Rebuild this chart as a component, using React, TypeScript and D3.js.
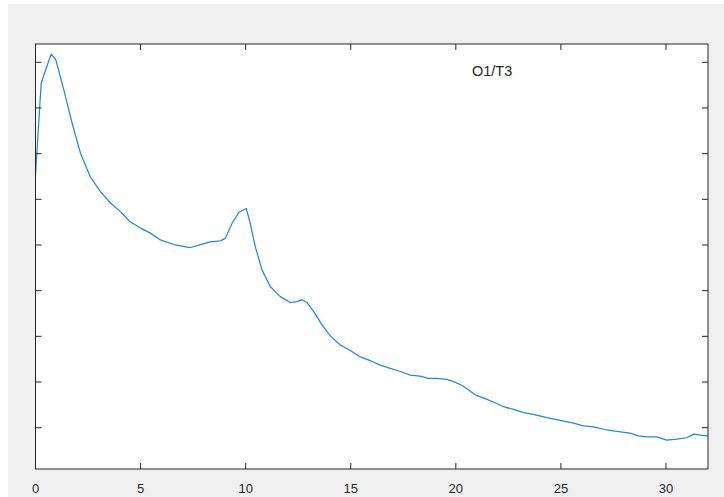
import React from "react";
import * as d3 from "d3";

// Spectrum trace for channel pair O1/T3 (frequency vs. amplitude)
const freq: number[] = [
  0, 0.27, 0.48, 0.75, 0.97, 1.35, 1.74, 2.14, 2.61, 3.09, 3.57, 4.04, 4.5, 5.0, 5.47,
  5.94, 6.58, 7.34, 7.85, 8.32, 8.8, 9.03, 9.35, 9.67, 10.03, 10.22, 10.46, 10.78, 11.17,
  11.65, 12.12, 12.44, 12.68, 12.92, 13.24, 13.63, 14.03, 14.5, 14.98, 15.45, 15.93, 16.4,
  16.88, 17.36, 17.83, 18.3, 18.7, 19.1, 19.57, 19.89, 20.28, 20.6, 20.92, 21.48, 21.95,
  22.26, 22.74, 23.22, 23.69, 24.33, 24.96, 25.6, 26.07, 26.55, 27.18, 27.82, 28.29,
  28.69, 29.09, 29.57, 30.04, 30.51, 30.99, 31.33, 31.62, 32,
];
const amplitude: number[] = [
  6.53, 8.54, 8.83, 9.18, 9.05, 8.39, 7.67, 7.01, 6.49, 6.17, 5.92, 5.73, 5.51, 5.37, 5.26,
  5.11, 5.01, 4.94, 5.01, 5.07, 5.09, 5.15, 5.47, 5.71, 5.8, 5.47, 4.96, 4.45, 4.09,
  3.87, 3.74, 3.76, 3.8, 3.74, 3.54, 3.25, 3.01, 2.81, 2.69, 2.55, 2.47, 2.37,
  2.3, 2.23, 2.15, 2.13, 2.08, 2.08, 2.06, 2.01, 1.93, 1.83, 1.72, 1.62, 1.53,
  1.46, 1.4, 1.33, 1.29, 1.22, 1.16, 1.1, 1.04, 1.02, 0.95, 0.91, 0.88,
  0.82, 0.8, 0.8, 0.73, 0.75, 0.78, 0.86, 0.84, 0.82,
];
const xTicks: number[] = [0, 5, 10, 15, 20, 25, 30];
const yTicks: number[] = [1, 2, 3, 4, 5, 6, 7, 8, 9];
const panelTitle = "O1/T3";

const W = 724;
const H = 497;
const left = 35.5;
const right = 708;
const top = 44;
const bottom = 469;
const axisColor = "#262626";

export default function App() {
  const x = d3.scaleLinear().domain([0, 32]).range([left, right]);
  const y = d3.scaleLinear().domain([0.096, 9.4]).range([bottom, top]);
  const pts = freq.map((f, i) => [f, amplitude[i]] as [number, number]);
  const line = d3
    .line<[number, number]>()
    .x((d) => x(d[0]))
    .y((d) => y(d[1]));
  const tl = 6;

  return (
    <svg
      width={W}
      height={H}
      style={{ position: "absolute", left: 0, top: 0, display: "block" }}
      fontFamily="Liberation Sans, Arial, sans-serif"
    >
      <rect x={0} y={0} width={W} height={H} fill="#ffffff" />
      <rect x={8} y={4} width={W - 8} height={H - 4} fill="#f0f0f0" />
      <rect x={left} y={top} width={right - left} height={bottom - top} fill="#ffffff" />

      <path d={line(pts) ?? ""} fill="none" stroke="#2a86d0" strokeWidth={1.25} strokeLinejoin="round" />

      {xTicks.map((t) => (
        <g key={"x" + t}>
          <line x1={x(t)} x2={x(t)} y1={bottom} y2={bottom - tl} stroke={axisColor} strokeWidth={1} />
          <line x1={x(t)} x2={x(t)} y1={top} y2={top + tl} stroke={axisColor} strokeWidth={1} />
          <text x={x(t)} y={493} textAnchor="middle" fontSize={13} fill={axisColor}>
            {t}
          </text>
        </g>
      ))}
      {yTicks.map((t) => (
        <g key={"y" + t}>
          <line x1={left} x2={left + tl} y1={y(t)} y2={y(t)} stroke={axisColor} strokeWidth={1} />
          <line x1={right} x2={right - tl} y1={y(t)} y2={y(t)} stroke={axisColor} strokeWidth={1} />
        </g>
      ))}

      <rect
        x={left}
        y={top}
        width={right - left}
        height={bottom - top}
        fill="none"
        stroke={axisColor}
        strokeWidth={1}
      />

      <text x={472} y={76} fontSize={14.5} fill="#262626">
        {panelTitle}
      </text>
    </svg>
  );
}
